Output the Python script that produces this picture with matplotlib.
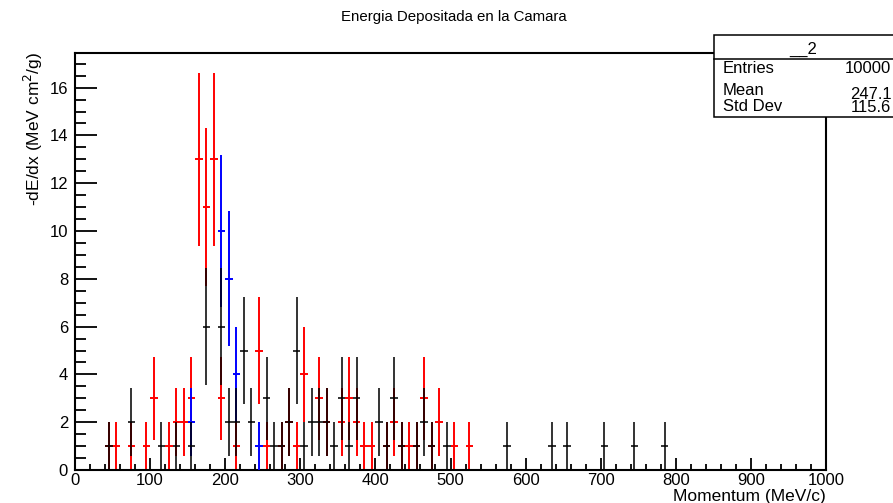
import numpy as np
import matplotlib
matplotlib.use("Agg")
import matplotlib.pyplot as plt
from matplotlib.patches import Rectangle
from matplotlib.lines import Line2D
from matplotlib.ticker import MultipleLocator

plt.rcParams['font.family'] = ['Liberation Sans', 'DejaVu Sans']

# Bin centres (MeV/c, bins of 10) and counts for each particle sample
black_x = [45, 75, 115, 135, 155, 175, 195, 205, 215, 225, 235, 255, 265, 275, 285,
           295, 305, 315, 325, 335, 345, 355, 365, 375, 405, 415, 425, 435, 455, 465,
           475, 495, 575, 635, 655, 705, 745, 785]
black_n = [1, 2, 1, 1, 1, 6, 6, 2, 2, 5, 2, 3, 1, 1, 2,
           5, 1, 2, 2, 2, 1, 3, 1, 3, 2, 1, 3, 1, 1, 2,
           1, 1, 1, 1, 1, 1, 1, 1]

red_x = [45, 55, 75, 95, 105, 125, 135, 145, 155, 165, 175, 185, 195, 215, 245, 255,
         275, 285, 295, 305, 325, 335, 355, 365, 375, 385, 395, 415, 425, 435, 445,
         455, 465, 475, 485, 505, 525]
red_n = [1, 1, 1, 1, 3, 1, 2, 2, 3, 13, 11, 13, 3, 1, 5, 1,
         1, 2, 1, 4, 3, 2, 2, 3, 2, 1, 1, 1, 2, 1, 1,
         1, 3, 1, 2, 1, 1]

blue_x = [155, 195, 205, 215, 245]
blue_n = [2, 10, 8, 4, 1]

bin_width = 10

stat_labels = ["Entries", "Mean", "Std Dev"]
stat_values = ["10000", "247.1", "115.6"]
hist_name = "__2"

title = "Energia Depositada en la Camara"
xlabel = "Momentum (MeV/c)"
ylabel = "-dE/dx (MeV cm$^{2}$/g)"

W, H = 893, 503
fig = plt.figure(figsize=(W / 100, H / 100), dpi=100)


def fx(px):
    return px / W


def fy(py):
    return 1 - py / H


ax = fig.add_axes([fx(75), fy(470), fx(826) - fx(75), fy(53) - fy(470)])
ax.set_xlim(0, 1000)
ax.set_ylim(0, 17.45)


def draw(xs, ns, color, alpha=1.0, z=2):
    ns = np.asarray(ns, dtype=float)
    ax.errorbar(xs, ns, xerr=bin_width / 2, yerr=np.sqrt(ns), fmt='none',
                ecolor=color, elinewidth=1.4, capsize=0, alpha=alpha, zorder=z)


draw(red_x, red_n, '#ff0000', z=2)
draw(blue_x, blue_n, '#0000ff', z=3)
draw(black_x, black_n, '#000000', alpha=0.8, z=4)

for s in ax.spines.values():
    s.set_linewidth(1.5)

ax.xaxis.set_major_locator(MultipleLocator(100))
ax.xaxis.set_minor_locator(MultipleLocator(20))
ax.yaxis.set_major_locator(MultipleLocator(2))
ax.yaxis.set_minor_locator(MultipleLocator(0.5))
ax.tick_params(axis='x', which='major', direction='in', length=8.6, width=1.3,
               labelsize=12, pad=2)
ax.tick_params(axis='x', which='minor', direction='in', length=4.3, width=1.3)
ax.tick_params(axis='y', which='major', direction='in', length=15.8, width=1.3,
               labelsize=12, pad=5)
ax.tick_params(axis='y', which='minor', direction='in', length=7.9, width=1.3)

fig.text(fx(454), fy(21), title, ha='center', va='baseline', fontsize=10.8)
fig.text(fx(826), fy(497), xlabel, ha='right', va='center', fontsize=12.5)
fig.text(fx(33), fy(52), ylabel, ha='center', va='top', rotation=90, fontsize=12.5)

# Statistics box
box = Rectangle((fx(714), fy(117)), fx(905) - fx(714), fy(35) - fy(117),
                transform=fig.transFigure, facecolor='white', edgecolor='black',
                linewidth=1.1, zorder=10)
fig.add_artist(box)
fig.add_artist(Line2D([fx(714), fx(905)], [fy(59), fy(59)], transform=fig.transFigure,
                      color='black', linewidth=1.1, zorder=11))
fig.text(fx(803), fy(54), hist_name, ha='center', va='baseline', fontsize=12, zorder=12)
label_base = [73.3, 95, 111]
value_base = [73.3, 99, 112.3]
for lab, val, yb1, yb2 in zip(stat_labels, stat_values, label_base, value_base):
    fig.text(fx(723), fy(yb1), lab, ha='left', va='baseline', fontsize=12, zorder=12)
    fig.text(fx(891.5), fy(yb2), val, ha='right', va='baseline', fontsize=12, zorder=12)

fig.savefig("out.png", dpi=100)
